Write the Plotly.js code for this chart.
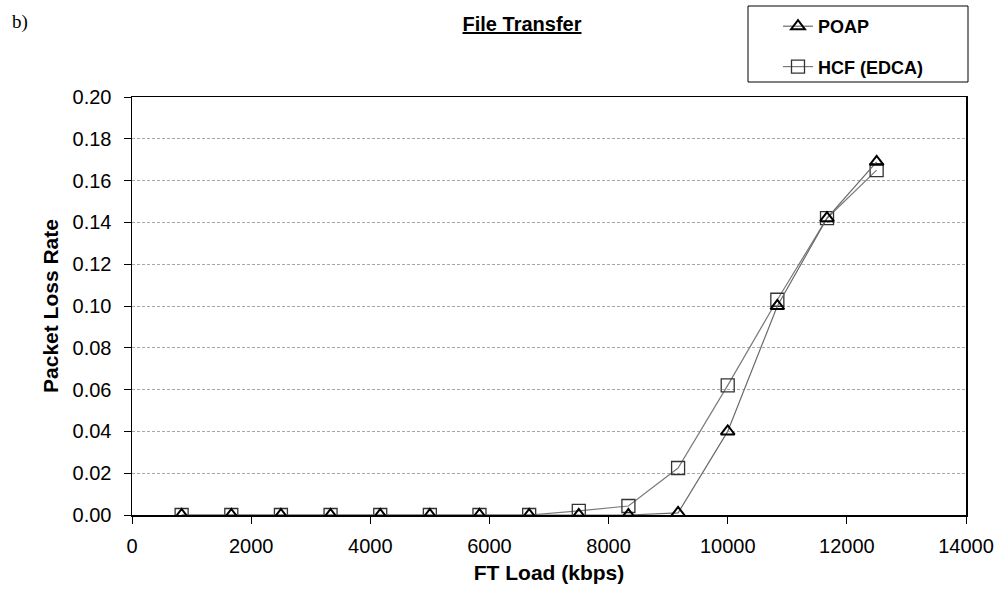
<!DOCTYPE html>
<html><head><meta charset="utf-8">
<script src="https://cdn.plot.ly/plotly-3.0.1.min.js"></script>
<style>html,body{margin:0;padding:0;background:#fff}</style>
</head><body><div id="chart" style="width:1000px;height:590px"></div>
<script>
const loadKbps = [833, 1667, 2500, 3333, 4167, 5000, 5833, 6667, 7500, 8333, 9167, 10000, 10833, 11667, 12500];
const poap = [0, 0, 0, 0, 0, 0, 0, 0, 0, 0, 0.001, 0.040, 0.100, 0.142, 0.169];
const hcf = [0, 0, 0, 0, 0, 0, 0, 0, 0.002, 0.0043, 0.0225, 0.062, 0.103, 0.142, 0.165];
const seriesNames = ['POAP', 'HCF (EDCA)'];
const xTicks = [0, 2000, 4000, 6000, 8000, 10000, 12000, 14000];
const yTicks = [0, 0.02, 0.04, 0.06, 0.08, 0.10, 0.12, 0.14, 0.16, 0.18, 0.20];

const FONT = 'Arial, "Liberation Sans", sans-serif';

const traces = [
  {
    x: loadKbps, y: hcf, name: seriesNames[1], type: 'scatter', mode: 'lines+markers',
    legendrank: 2, legendgroup: 'b',
    line: {color: '#7a7a7a', width: 1.2},
    marker: {symbol: 'square-open', size: 13, color: '#333', line: {color: '#333', width: 1.3}}
  },
  {
    x: loadKbps, y: poap, name: seriesNames[0], type: 'scatter', mode: 'lines+markers',
    legendrank: 1, legendgroup: 'a',
    line: {color: '#6a6a6a', width: 1.2},
    marker: {symbol: 'triangle-up-open', size: 12, color: '#000', line: {color: '#000', width: 2}}
  }
];

const layout = {
  width: 1000, height: 590,
  paper_bgcolor: '#fff', plot_bgcolor: '#fff',
  margin: {l: 132, r: 34, t: 97, b: 75, autoexpand: false},
  font: {family: FONT, color: '#000'},
  title: {
    text: '<u>File Transfer</u>',
    font: {family: FONT, size: 20, weight: 'bold', color: '#000'},
    xref: 'container', yref: 'container', x: 0.522, y: 1 - 24 / 590,
    xanchor: 'center', yanchor: 'middle'
  },
  xaxis: {
    range: [0, 14000], tickvals: xTicks, ticktext: xTicks.map(String),
    ticks: 'outside', ticklen: 7, tickcolor: '#000', tickwidth: 1,
    showline: true, linecolor: '#000', linewidth: 1.5, mirror: true,
    showgrid: false, zeroline: false,
    tickfont: {family: FONT, size: 20, color: '#000'},
    ticklabelstandoff: 5,
    title: {text: 'FT Load (kbps)', font: {family: FONT, size: 21, weight: 'bold', color: '#000'}, standoff: 10}
  },
  yaxis: {
    range: [0, 0.2], tickvals: yTicks, ticktext: yTicks.map(v => v.toFixed(2)),
    ticks: 'outside', ticklen: 7, tickcolor: '#000', tickwidth: 1,
    showline: true, linecolor: '#000', linewidth: 1.5, mirror: true,
    showgrid: true, gridcolor: '#a8a8a8', gridwidth: 1, griddash: '3px,2px',
    zeroline: false,
    tickfont: {family: FONT, size: 20, color: '#000'},
    ticklabelstandoff: 8,
    title: {text: 'Packet Loss Rate', font: {family: FONT, size: 21, weight: 'bold', color: '#000'}, standoff: 8}
  },
  showlegend: true,
  legend: {
    xref: 'container', yref: 'container',
    x: 0.778, y: 1 - 8 / 590, xanchor: 'left', yanchor: 'top',
    bgcolor: 'rgba(0,0,0,0)', borderwidth: 0,
    font: {family: FONT, size: 18, weight: 'bold', color: '#000'},
    tracegroupgap: 14, traceorder: 'grouped', itemwidth: 30
  },
  shapes: [{
    type: 'rect', xref: 'paper', yref: 'paper',
    x0: (748 - 132) / 834, x1: (968 - 132) / 834,
    y0: (515 - 82) / 418, y1: (515 - 6) / 418,
    line: {color: '#000', width: 1}, fillcolor: 'rgba(0,0,0,0)', layer: 'above'
  }],
  annotations: [{
    text: 'b)', xref: 'paper', yref: 'paper',
    x: (10 - 132) / 834, y: (515 - 22) / 418, xanchor: 'left', yanchor: 'middle',
    showarrow: false, font: {family: '"Liberation Serif", "DejaVu Serif", serif', size: 19, color: '#000'}
  }]
};

Plotly.newPlot('chart', traces, layout, {displayModeBar: false, staticPlot: true});
</script></body></html>
